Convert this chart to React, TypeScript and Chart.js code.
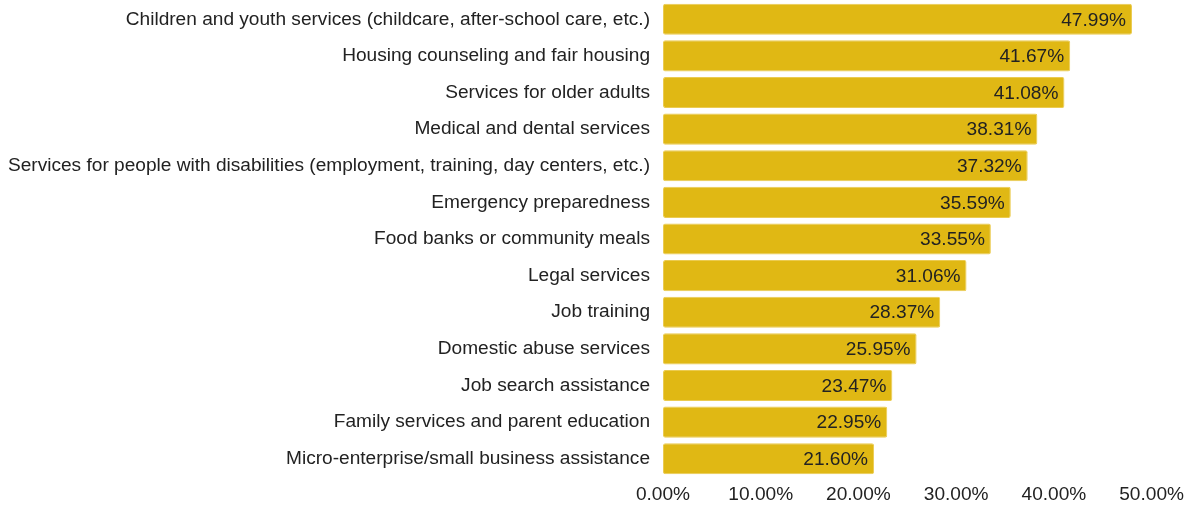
import React, { useEffect, useRef } from "react";
import { Chart, registerables } from "chart.js";

Chart.register(...registerables);

const categories = [
  "Children and youth services (childcare, after-school care, etc.)",
  "Housing counseling and fair housing",
  "Services for older adults",
  "Medical and dental services",
  "Services for people with disabilities (employment, training, day centers, etc.)",
  "Emergency preparedness",
  "Food banks or community meals",
  "Legal services",
  "Job training",
  "Domestic abuse services",
  "Job search assistance",
  "Family services and parent education",
  "Micro-enterprise/small business assistance",
];

const values = [47.99, 41.67, 41.08, 38.31, 37.32, 35.59, 33.55, 31.06, 28.37, 25.95, 23.47, 22.95, 21.6];

const xTicks = [0, 10, 20, 30, 40, 50];

const FONT = "Arial, 'Liberation Sans', Helvetica, sans-serif";
const FS = 19.1;

const valueLabels = {
  id: "valueLabels",
  afterDatasetsDraw(chart: any) {
    const ctx = chart.ctx;
    const meta = chart.getDatasetMeta(0);
    ctx.save();
    ctx.font = `${FS}px ${FONT}`;
    ctx.fillStyle = "#222";
    ctx.textAlign = "right";
    ctx.textBaseline = "middle";
    meta.data.forEach((bar: any, i: number) => {
      ctx.fillText(values[i].toFixed(2) + "%", bar.x - 6, bar.y + 1);
    });
    ctx.restore();
  },
};

export default function App() {
  const ref = useRef<HTMLCanvasElement>(null);
  useEffect(() => {
    document.body.style.margin = "0";
    const chart = new Chart(ref.current!, {
      type: "bar",
      data: {
        labels: categories,
        datasets: [
          {
            data: values,
            backgroundColor: "#E0B814",
            borderColor: "#EBCB50",
            borderWidth: 1,
            borderRadius: 2,
            borderSkipped: false,
            categoryPercentage: 1,
            barPercentage: 0.85,
          },
        ],
      },
      options: {
        indexAxis: "y",
        animation: false,
        responsive: false,
        maintainAspectRatio: false,
        layout: { padding: { top: 1, right: 38, bottom: 0, left: 0 } },
        plugins: { legend: { display: false }, tooltip: { enabled: false } },
        scales: {
          x: {
            min: 0,
            max: 50,
            afterBuildTicks: (scale: any) => {
              scale.ticks = xTicks.map((v) => ({ value: v }));
            },
            afterFit: (scale: any) => {
              scale.height = 29;
            },
            grid: { display: false, drawTicks: false },
            border: { display: false },
            ticks: {
              color: "#222",
              font: { size: FS, family: FONT },
              padding: 6,
              maxRotation: 0,
              callback: (v: any) => Number(v).toFixed(2) + "%",
            },
          },
          y: {
            grid: { display: false, drawTicks: false },
            border: { display: false },
            afterFit: (scale: any) => {
              scale.width = 663;
              scale.paddingTop = 0;
              scale.paddingBottom = 0;
            },
            ticks: {
              color: "#222",
              font: { size: FS, family: FONT },
              padding: 13,
            },
          },
        },
      },
      plugins: [valueLabels],
    });
    return () => chart.destroy();
  }, []);
  return (
    <div style={{ width: 1190, height: 506 }}>
      <canvas ref={ref} width={1190} height={506} />
    </div>
  );
}
